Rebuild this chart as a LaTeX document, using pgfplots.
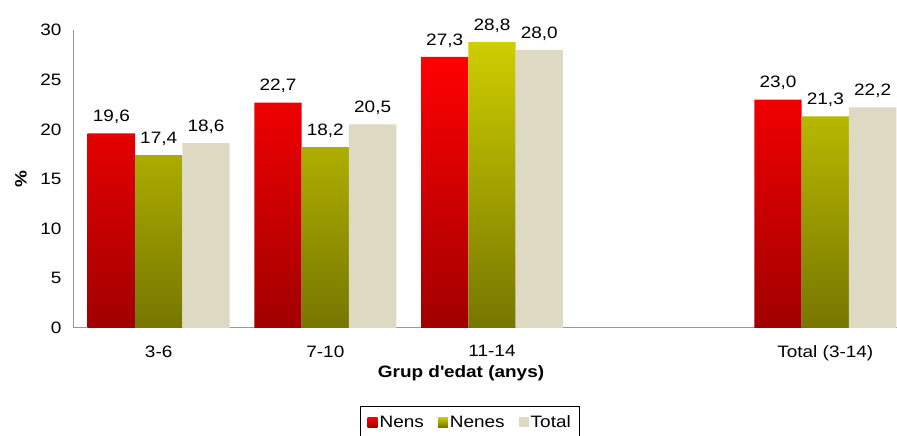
\documentclass[border=0pt]{standalone}
\usepackage{fontspec}
\setmainfont[FakeStretch=1.15]{Liberation Sans}
\usepackage{pgfplots}
\pgfplotsset{compat=1.18}
\definecolor{redT}{RGB}{255,0,0}
\definecolor{redB}{RGB}{160,0,0}
\definecolor{grnT}{RGB}{206,206,0}
\definecolor{grnB}{RGB}{118,118,0}
\definecolor{beige}{RGB}{221,217,195}
\begin{document}
\begin{tikzpicture}
\path[use as bounding box] (0pt,0pt) rectangle (897pt,436pt);
\begin{axis}[
  at={(73pt,108pt)}, anchor=south west,
  width=824pt, height=298pt, scale only axis,
  xmin=-0.514, xmax=4.43, ymin=0, ymax=30,
  ybar=0pt, bar width=47.3pt,
  xtick={0,1,2,4}, xticklabels={3-6,7-10,11-14,Total (3-14)},
  ytick={0,5,...,30},
  axis x line*=bottom, axis y line*=left,
  axis line style={draw=gray!80, line width=1pt, -},
  major tick length=0pt,
  /pgf/number format/assume math mode=true,
  tick label style={font=\fontsize{16.5}{19}\selectfont, black},
  xticklabel style={yshift=-14pt},
  yticklabel style={xshift=-8pt},
  xlabel={Grup d\textquotesingle edat (anys)},
  xlabel style={at={(rel axis cs:0.4709,0)}, anchor=north, yshift=-34pt, font=\bfseries\fontsize{16.5}{19}\selectfont},
  ylabel={\%},
  ylabel style={at={(rel axis cs:-0.0631,0.5)}, anchor=center, font=\bfseries\fontsize{16.5}{19}\selectfont},
  nodes near coords,
  every node near coord/.append style={font=\fontsize{16.5}{19}\selectfont, black, yshift=6pt,
    /pgf/number format/fixed, /pgf/number format/fixed zerofill, /pgf/number format/precision=1, /pgf/number format/use comma},
  legend style={at={(rel axis cs:0.482,-0.262)}, anchor=north, legend columns=3, draw=black, line width=0.8pt,
    font=\fontsize{16.5}{19}\selectfont, inner xsep=7pt, inner ysep=7pt,
    /tikz/every even column/.style={column sep=12pt}},
  legend image code/.code={\path[#1, draw=none] (0pt,-5pt) rectangle (10pt,5pt);},
]
\addplot[draw=none, top color=redT, bottom color=redB] coordinates {(0,19.6) (1,22.7) (2,27.3) (4,23.0)};
\addplot[draw=none, top color=grnT, bottom color=grnB] coordinates {(0,17.4) (1,18.2) (2,28.8) (4,21.3)};
\addplot[draw=none, fill=beige] coordinates {(0,18.6) (1,20.5) (2,28.0) (4,22.2)};
\legend{Nens,Nenes,Total}
\end{axis}
\end{tikzpicture}
\end{document}
